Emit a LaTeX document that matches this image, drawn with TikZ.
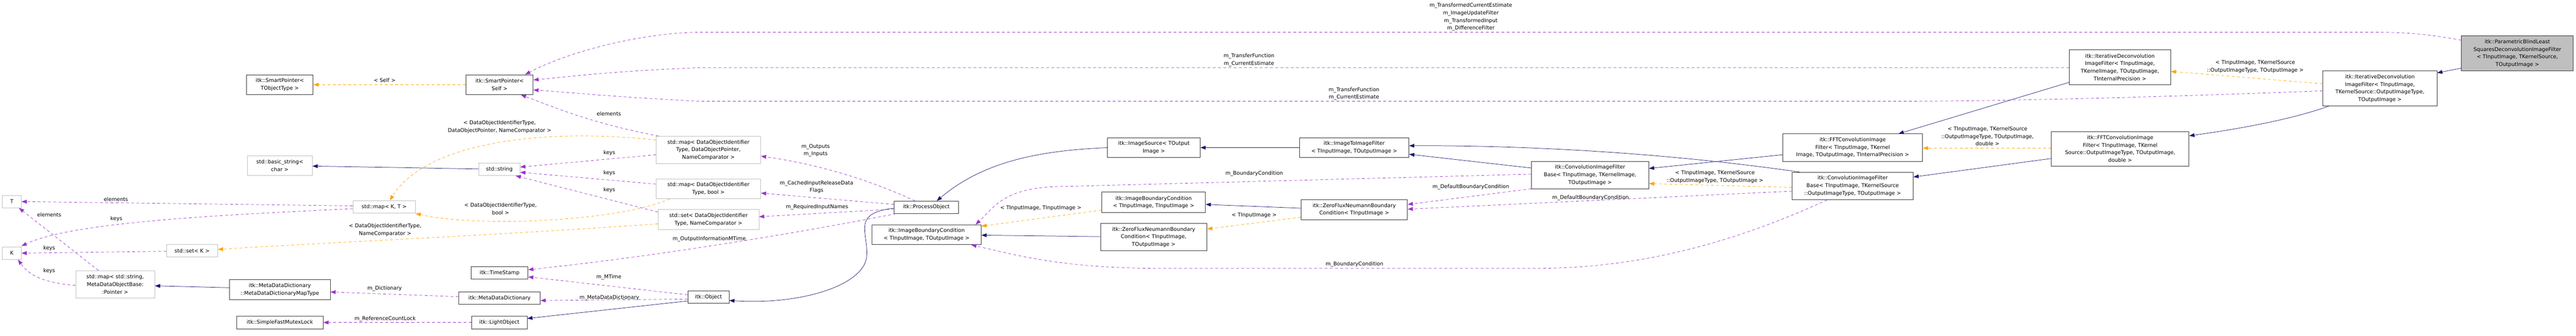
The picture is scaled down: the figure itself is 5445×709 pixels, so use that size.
\documentclass[tikz,border=0pt]{standalone}
\usepackage{fontspec}
\setmainfont{DejaVu Sans}
\usetikzlibrary{arrows.meta}
\definecolor{pu}{HTML}{9A32CD}
\definecolor{og}{HTML}{FFA500}
\definecolor{nv}{HTML}{191970}
\definecolor{gb}{HTML}{BFBFBF}
\tikzset{
  box/.style={draw=black!80, line width=0.9pt, inner sep=0pt, align=center, font=\fontsize{11}{16}\selectfont},
  gbox/.style={box, draw=gb},
  lbl/.style={align=center, inner sep=0pt, font=\fontsize{11}{16}\selectfont},
  ar/.style={-{Triangle[length=11pt,width=8pt]}, line width=0.8pt},
  pa/.style={ar, draw=pu, fill=none, dash pattern=on 6pt off 5pt, arrows={-{Triangle[length=11pt,width=8pt,fill=pu]}}},
  oa/.style={ar, draw=og, dash pattern=on 6pt off 5pt, arrows={-{Triangle[length=11pt,width=8pt,fill=og]}}},
  na/.style={ar, draw=nv, arrows={-{Triangle[length=11pt,width=8pt,fill=nv]}}},
}
\newcommand\bx[7]{\node[#6, minimum width={#3-#2}, minimum height={#5-#4}] (#1) at ({(#2+#3)/2},{(#4+#5)/2}) {#7};}
\begin{document}
\begin{tikzpicture}[x=1pt,y=-1pt]
\useasboundingbox (0,0) rectangle (5445,709);
\bx{sptobj}{521}{662}{158}{200}{box}{itk::SmartPointer<\\TObjectType >}
\bx{spself}{985}{1127}{158}{200}{box}{itk::SmartPointer<\\Self >}
\bx{bstr}{523}{660}{329}{371}{gbox}{std::basic\_string<\\char >}
\bx{T}{5}{45}{413}{439}{gbox}{T}
\bx{K}{5}{45}{522}{548}{gbox}{K}
\bx{setK}{352}{460}{517}{543}{gbox}{std::set< K >}
\bx{mapstr}{160}{327}{572}{630}{gbox}{std::map< std::string,\\MetaDataObjectBase:\\:Pointer >}
\bx{mddmap}{485}{698}{591}{633}{box}{itk::MetaDataDictionary\\::MetaDataDictionaryMapType}
\bx{sfml}{500}{683}{668}{695}{box}{itk::SimpleFastMutexLock}
\bx{str}{1012}{1099}{345}{371}{gbox}{std::string}
\bx{mapKT}{746}{878}{424}{450}{gbox}{std::map< K, T >}
\bx{ts}{996}{1116}{564}{590}{box}{itk::TimeStamp}
\bx{mdd}{970}{1142}{617}{643}{box}{itk::MetaDataDictionary}
\bx{lo}{997}{1114}{668}{695}{box}{itk::LightObject}
\bx{map3}{1387}{1608}{288}{346}{gbox}{std::map< DataObjectIdentifier\\Type, DataObjectPointer,\\NameComparator >}
\bx{mapb}{1387}{1608}{378}{420}{gbox}{std::map< DataObjectIdentifier\\Type, bool >}
\bx{setd}{1391}{1604}{443}{485}{gbox}{std::set< DataObjectIdentifier\\Type, NameComparator >}
\bx{obj}{1454}{1541}{615}{641}{box}{itk::Object}
\bx{po}{1890}{2026}{425}{451}{box}{itk::ProcessObject}
\bx{ibc}{1843}{2074}{475}{517}{box}{itk::ImageBoundaryCondition\\< TInputImage, TOutputImage >}
\bx{isrc}{2341}{2537}{291}{333}{box}{itk::ImageSource< TOutput\\Image >}
\bx{ibcii}{2329}{2548}{406}{449}{box}{itk::ImageBoundaryCondition\\< TInputImage, TInputImage >}
\bx{zfio}{2326}{2551}{472}{530}{box}{itk::ZeroFluxNeumannBoundary\\Condition< TInputImage,\\TOutputImage >}
\bx{itif}{2747}{2978}{291}{333}{box}{itk::ImageToImageFilter\\< TInputImage, TOutputImage >}
\bx{zfi}{2750}{2975}{422}{464}{box}{itk::ZeroFluxNeumannBoundary\\Condition< TInputImage >}
\bx{cb1}{3237}{3485}{341}{399}{box}{itk::ConvolutionImageFilter\\Base< TInputImage, TKernelImage,\\TOutputImage >}
\bx{fft1}{3768}{4064}{283}{341}{box}{itk::FFTConvolutionImage\\Filter< TInputImage, TKernel\\Image, TOutputImage, TInternalPrecision >}
\bx{cb2}{3788}{4044}{364}{422}{box}{itk::ConvolutionImageFilter\\Base< TInputImage, TKernelSource\\::OutputImageType, TOutputImage >}
\bx{id1}{4374}{4588}{105}{179}{box}{itk::IterativeDeconvolution\\ImageFilter< TInputImage,\\TKernelImage, TOutputImage,\\TInternalPrecision >}
\bx{fft2}{4336}{4627}{278}{351}{box}{itk::FFTConvolutionImage\\Filter< TInputImage, TKernel\\Source::OutputImageType, TOutputImage,\\double >}
\bx{id2}{4910}{5151}{150}{224}{box}{itk::IterativeDeconvolution\\ImageFilter< TInputImage,\\TKernelSource::OutputImageType,\\TOutputImage >}
\bx{param}{5203}{5439}{76}{150}{box, fill=gb}{itk::ParametricBlindLeast\\SquaresDeconvolutionImageFilter\\< TInputImage, TKernelSource,\\TOutputImage >}

% connectors
\draw[na] (str.west |- 0,357) -- (bstr.east |- 0,351);
\draw[oa] (spself.west |- 0,179) -- (sptobj.east |- 0,179);
\draw[pa] (param.west |- 0,85) .. controls (5120,70) and (5080,68) .. (5000,68) -- (1479,68) .. controls (1350,70) and (1200,110) .. (spself.north -| 1110,0);
\draw[pa] (id1.west |- 0,143) -- (1479,143) .. controls (1300,150) and (1200,162) .. (spself.east |- 0,169);
\draw[pa] (id2.west |- 0,192) .. controls (4700,200) and (4300,214) .. (4000,214) -- (1479,214) .. controls (1300,205) and (1200,195) .. (spself.east |- 0,190);
\draw[pa] (map3.north -| 1392,0) .. controls (1250,260) and (1180,230) .. (spself.south -| 1101,0);
\draw[oa] (map3.west |- 0,296) .. controls (1150,270) and (900,300) .. (mapKT.north -| 824,0);
\draw[pa] (map3.west |- 0,327) -- (str.east |- 0,353);
\draw[pa] (mapb.west |- 0,389) -- (str.east |- 0,364);
\draw[pa] (setd.west |- 0,448) -- (str.south -| 1090,0);
\draw[oa] (mapb.south -| 1416,0) .. controls (1300,470) and (1000,480) .. (mapKT.east |- 0,451);
\draw[oa] (setd.west |- 0,473) .. controls (1000,500) and (700,512) .. (setK.east |- 0,527);
\draw[pa] (mapKT.west |- 0,435) -- (T.east |- 0,426);
\draw[pa] (mapKT.west |- 0,441) .. controls (450,455) and (150,470) .. (K.east |- 0,520);
\draw[pa] (setK.west |- 0,531) -- (K.east |- 0,535);
\draw[pa] (mapstr.north -| 208,0) -- (T.south -| 40,0);
\draw[pa] (mapstr.west |- 0,603) .. controls (90,598) and (60,580) .. (K.south -| 38,0);
\draw[na] (mddmap.west |- 0,608) -- (mapstr.east |- 0,604);
\draw[pa] (mdd.west |- 0,627) -- (mddmap.east |- 0,617);
\draw[pa] (lo.west) -- (sfml.east);
\draw[pa] (po.south -| 1894,0) .. controls (1700,490) and (1400,540) .. (ts.east |- 0,570);
\draw[pa] (obj.west |- 0,623) -- (ts.east |- 0,585);
\draw[pa] (obj.west |- 0,632) -- (mdd.east |- 0,635);
\draw[na] (obj.west |- 0,636) -- (lo.east |- 0,673);
\draw[na] (po.west |- 0,440) .. controls (1800,450) and (1835,490) .. (1832,540) .. controls (1830,600) and (1700,645) .. (obj.east |- 0,635);
\draw[pa] (po.north -| 1934,0) .. controls (1860,390) and (1750,350) .. (map3.east |- 0,330);
\draw[pa] (po.west |- 0,432) -- (mapb.east |- 0,408);
\draw[pa] (po.west |- 0,442) -- (setd.east |- 0,458);
\draw[na] (isrc.west |- 0,312) .. controls (2200,318) and (2080,340) .. (po.north -| 1980,0);
\draw[na] (itif.west |- 0,312) -- (isrc.east |- 0,312);
\draw[oa] (ibcii.west |- 0,444) -- (ibc.east |- 0,478);
\draw[na] (zfio.west |- 0,500) -- (ibc.east |- 0,497);
\draw[pa] (cb1.west |- 0,368) -- (2250,394) .. controls (2120,394) and (2100,440) .. (ibc.north -| 2062,0);
\draw[na] (zfi.west |- 0,440) -- (ibcii.east |- 0,432);
\draw[oa] (zfi.west |- 0,459) -- (zfio.east |- 0,484);
\draw[pa] (cb2.south -| 3862,0) .. controls (3650,520) and (3450,567) .. (3250,567) -- (2450,567) .. controls (2250,567) and (2150,540) .. (ibc.south -| 2053,0);
\draw[na] (cb1.west |- 0,355) -- (itif.east |- 0,326);
\draw[na] (cb2.north -| 3804,0) .. controls (3500,320) and (3200,307) .. (itif.east |- 0,308);
\draw[pa] (cb1.west |- 0,399) -- (zfi.east |- 0,432);
\draw[pa] (cb2.west |- 0,404) -- (zfi.east |- 0,442);
\draw[na] (fft1.west |- 0,327) -- (cb1.east |- 0,356);
\draw[oa] (cb2.west |- 0,396) -- (cb1.east |- 0,388);
\draw[na] (id1.west |- 0,174) -- (fft1.north -| 4013,0);
\draw[oa] (fft2.west |- 0,313) -- (fft1.east |- 0,313);
\draw[na] (fft2.west |- 0,335) -- (cb2.east |- 0,374);
\draw[na] (id2.south -| 4922,0) .. controls (4850,250) and (4750,270) .. (fft2.east |- 0,287);
\draw[oa] (id2.west |- 0,177) -- (id1.east |- 0,151);
\draw[na] (param.west |- 0,144) -- (id2.east |- 0,154);

% labels
\node[lbl] (l1) at (813,170) {< Self >};
\node[lbl] (l2) at (3109,36) {m\_TransformedCurrentEstimate\\m\_ImageUpdateFilter\\m\_TransformedInput\\m\_DifferenceFilter};
\node[lbl] (l3) at (2640,127) {m\_TransferFunction\\m\_CurrentEstimate};
\node[lbl] (l4) at (2862,198) {m\_TransferFunction\\m\_CurrentEstimate};
\node[lbl] (l5) at (1287,240) {elements};
\node[lbl] (l6) at (1056,268) {< DataObjectIdentifierType,\\DataObjectPointer, NameComparator >};
\node[lbl] (l7) at (1288,323) {keys};
\node[lbl] (l8) at (1288,366) {keys};
\node[lbl] (l9) at (1288,401) {keys};
\node[lbl] (l10) at (1058,441) {< DataObjectIdentifierType,\\bool >};
\node[lbl] (l11) at (814,486) {< DataObjectIdentifierType,\\NameComparator >};
\node[lbl] (l12) at (245,421) {elements};
\node[lbl] (l13) at (246,462) {keys};
\node[lbl] (l14) at (104,525) {keys};
\node[lbl] (l15) at (104,454) {elements};
\node[lbl] (l16) at (104,572) {keys};
\node[lbl] (l17) at (813,610) {m\_Dictionary};
\node[lbl] (l18) at (814,674) {m\_ReferenceCountLock};
\node[lbl] (l19) at (1499,505) {m\_OutputInformationMTime};
\node[lbl] (l20) at (1287,586) {m\_MTime};
\node[lbl] (l21) at (1288,629) {m\_MetaDataDictionary};
\node[lbl] (l22) at (1724,318) {m\_Outputs\\m\_Inputs};
\node[lbl] (l23) at (1726,395) {m\_CachedInputReleaseData\\Flags};
\node[lbl] (l24) at (1727,438) {m\_RequiredInputNames};
\node[lbl] (l25) at (2200,440) {< TInputImage, TInputImage >};
\node[lbl] (l26) at (2651,367) {m\_BoundaryCondition};
\node[lbl] (l27) at (2651,455) {< TInputImage >};
\node[lbl] (l28) at (2863,559) {m\_BoundaryCondition};
\node[lbl] (l29) at (3109,395) {m\_DefaultBoundaryCondition};
\node[lbl] (l30) at (3362,418) {m\_DefaultBoundaryCondition};
\node[lbl] (l31) at (3625,374) {< TInputImage, TKernelSource\\::OutputImageType, TOutputImage >};
\node[lbl] (l32) at (4201,288) {< TInputImage, TKernelSource\\::OutputImageType, TOutputImage,\\double >};
\node[lbl] (l33) at (4767,141) {< TInputImage, TKernelSource\\::OutputImageType, TOutputImage >};
\end{tikzpicture}
\end{document}
